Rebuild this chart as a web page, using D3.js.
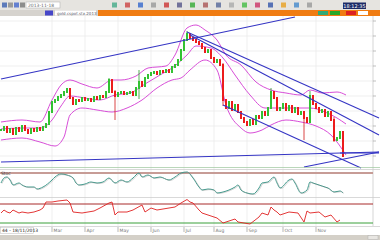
<!DOCTYPE html>
<html>
<head>
<meta charset="utf-8">
<script src="https://cdn.jsdelivr.net/npm/d3@7"></script>
<style>
  html, body { margin: 0; padding: 0; background: #fff; }
  svg { display: block; font-family: "DejaVu Sans", sans-serif; }
</style>
</head>
<body>
<div id="chart"></div>
<script>
// closing prices, one per trading day
const closes = [
  83.6, 83.9, 83.4, 83.7, 83.2, 83.8, 83.5, 84.0, 83.6, 83.3,
  83.7, 83.5, 83.8, 83.6, 83.9, 84.2, 85.4, 86.4, 86.6, 86.9,
  87.1, 87.4, 87.7, 86.8, 86.2, 86.6, 86.5, 86.8, 86.6, 86.7,
  86.5, 86.9, 86.7, 87.0, 86.9, 87.4, 88.6, 87.4, 87.0, 87.3,
  87.4, 87.2, 87.3, 87.4, 87.1, 87.8, 88.4, 88.0, 88.8, 89.1,
  89.3, 89.4, 89.2, 89.5, 89.4, 89.6, 89.4, 89.9, 90.1, 90.6,
  91.6, 92.6, 93.2, 92.8, 92.6, 92.4, 92.2, 91.8, 91.4, 91.6,
  90.8, 90.4, 90.6, 90.1, 86.6, 85.8, 86.4, 85.6, 86.1, 85.4,
  84.8, 84.4, 84.1, 84.6, 84.2, 85.0, 84.8, 85.4, 85.1, 85.8,
  87.4, 86.8, 85.6, 85.8, 86.2, 85.6, 86.0, 85.4, 85.8, 85.2,
  85.4, 84.8, 84.4, 87.0, 86.2, 85.8, 85.4, 85.6, 85.0, 85.4,
  84.6, 82.6, 82.8, 83.4, 81.0
];

// long shadows worth showing: [day, low, high]
const spikes = [
  [36, 87.4, 88.8], [38, 84.6, 87.6], [46, 86.7, 89.6], [62, 92.6, 93.5],
  [74, 86.0, 90.3], [90, 85.7, 87.8], [101, 82.6, 85.2], [103, 85.4, 87.5],
  [111, 82.4, 84.9], [114, 80.9, 83.2]
];

// bollinger bands: [day, price]
const bandUpper = [
  [0, 84.4], [7, 84.6], [13, 84.4], [17, 86.6], [20, 88.1], [23, 88.6], [27, 88.2],
  [32, 87.8], [37, 88.6], [40, 88.6], [45, 89.0], [49, 89.8], [55, 90.0], [58, 91.1],
  [62, 93.8], [65, 94.1], [68, 93.6], [72, 92.6], [75, 91.1], [80, 90.1], [85, 88.4],
  [90, 87.6], [95, 87.3], [100, 87.1], [103, 87.6], [107, 87.3], [112, 87.4], [115, 87.1]
];
const bandMiddle = [
  [0, 83.7], [7, 83.8], [13, 83.8], [17, 84.6], [20, 86.0], [23, 87.0], [28, 86.8],
  [33, 86.6], [38, 87.1], [43, 87.3], [48, 88.2], [53, 89.1], [57, 89.8], [62, 91.1],
  [65, 92.0], [70, 91.8], [74, 90.8], [78, 89.1], [83, 87.1], [88, 85.8], [93, 85.8],
  [98, 85.8], [103, 85.8], [108, 85.4], [112, 84.8], [115, 84.2]
];
const bandLower = [
  [0, 82.6], [7, 82.8], [13, 82.4], [18, 82.0], [21, 82.9], [23, 85.1], [27, 85.8],
  [32, 85.6], [37, 85.4], [42, 85.8], [47, 86.6], [52, 87.8], [57, 88.6], [60, 88.8],
  [63, 89.6], [68, 90.6], [72, 89.6], [75, 86.1], [80, 83.8], [83, 83.3], [87, 83.6],
  [90, 84.1], [95, 84.6], [100, 84.4], [105, 84.0], [110, 83.1], [115, 81.1]
];

// hand drawn trend lines: [[day, price], [day, price]]
const trendLines = [
  [[0, 88.7], [98, 94.9]],
  [[62, 93.4], [126, 84.8]],
  [[63, 93.1], [126, 83.1]],
  [[74, 86.1], [120, 79.8]],
  [[0, 80.4], [126, 81.4]],
  [[101, 79.9], [126, 81.4]],
  [[113, 81.3], [126, 81.3]]
];

// stochastic panel: [day, value]
const stoch = [
  [0, 52], [1, 72], [2, 76], [3, 64], [4, 44], [6, 52], [7, 44], [9, 36], [11, 36], [12, 28],
  [14, 36], [17, 64], [18, 76], [20, 88], [22, 84], [24, 72], [25, 52], [26, 44], [28, 48],
  [30, 56], [32, 52], [34, 56], [36, 72], [38, 52], [40, 64], [42, 56], [44, 72], [46, 92],
  [47, 76], [49, 84], [51, 72], [53, 76], [56, 64], [58, 76], [60, 92], [62, 96], [64, 72],
  [66, 36], [67, 24], [69, 28], [71, 24], [72, 12], [74, 16], [76, 24], [78, 36], [79, 44],
  [80, 24], [82, 12], [84, 8], [86, 32], [87, 52], [89, 56], [91, 76], [92, 52], [93, 32],
  [96, 64], [97, 68], [98, 52], [100, 12], [102, 24], [103, 56], [104, 52], [106, 44],
  [108, 36], [109, 32], [111, 16], [113, 20], [114, 12]
];
const stochLevel = 92;

// second oscillator panel: [day, value]
const osc = [
  [0, 48], [1, 60], [2, 52], [3, 48], [4, 60], [6, 48], [7, 52], [9, 48], [11, 52], [13, 60],
  [14, 68], [15, 92], [17, 92], [19, 96], [22, 100], [23, 88], [24, 52], [27, 48], [29, 52],
  [31, 56], [33, 68], [36, 88], [37, 92], [38, 40], [39, 52], [42, 52], [44, 60], [47, 80],
  [48, 52], [50, 68], [52, 60], [56, 68], [58, 72], [60, 88], [62, 102], [63, 92], [64, 88],
  [66, 60], [67, 48], [69, 40], [71, 32], [72, 28], [74, 8], [76, 16], [78, 24], [79, 12],
  [81, 8], [83, 4], [86, 32], [87, 48], [89, 40], [90, 72], [91, 60], [92, 52], [93, 40],
  [96, 52], [99, 48], [101, 12], [102, 56], [103, 48], [106, 52], [108, 32], [110, 40],
  [112, 12], [113, 20]
];
const oscLevels = [84, 8];

const priceTicks = [81, 82.5, 84, 85.5, 87, 88.5, 90, 91.5, 93, 94.5];
const monthTicks = [17, 28, 39, 50, 61, 71, 82, 94, 105];
const monthLabels = ["Mar", "Apr", "May", "Jun", "Jul", "Aug", "Sep", "Oct", "Nov"];
const toolbarIcons = ["#3a5fb0", "#888", "#4466cc", "#777", "#4a8", "#c44", "#36c", "#999", "#c33",
  "#558", "#3a3", "#a55", "#569", "#aaa", "#4b4", "#c36", "#35a", "#e9a020", "#48c", "#999"];

const width = 380, height = 240;

const svg = d3.select("#chart").append("svg")
  .attr("width", width)
  .attr("height", height);

const x = d3.scaleLinear().domain([0, 126]).range([1, 379]);
const y = d3.scaleLinear().domain([80, 94.9]).range([166, 17]);
const yStoch = d3.scaleLinear().domain([0, 100]).range([196, 171]);
const yOsc = d3.scaleLinear().domain([0, 100]).range([225, 200]);

// ---- window chrome ----
svg.append("rect").attr("width", width).attr("height", 10).attr("fill", "#e6e4e0");
svg.append("g").selectAll("rect")
  .data(toolbarIcons)
  .join("rect")
  .attr("x", (d, i) => i < 4 ? 2 + i * 6 : 60 + i * 13)
  .attr("y", 2.5)
  .attr("width", 5)
  .attr("height", 5)
  .attr("fill", d => d)
  .attr("opacity", 0.8);
svg.append("rect").attr("x", 26).attr("y", 2).attr("width", 34).attr("height", 6)
  .attr("fill", "#fff").attr("stroke", "#aaa").attr("stroke-width", 0.5);
svg.append("text").attr("x", 28).attr("y", 6.8).attr("font-size", 4.5).attr("fill", "#666")
  .text("2013-11-18");
svg.append("rect").attr("x", 343).attr("y", 2.5).attr("width", 23).attr("height", 6.5).attr("fill", "#1c2a66");
svg.append("text").attr("x", 354.5).attr("y", 7.5).attr("font-size", 5).attr("fill", "#fff")
  .attr("text-anchor", "middle").text("18:12:35");

svg.append("rect").attr("y", 10).attr("width", width).attr("height", 6).attr("fill", "#d6d3ce");
svg.append("rect").attr("x", 98).attr("y", 10).attr("width", 282).attr("height", 6).attr("fill", "#f07c12");
svg.append("rect").attr("x", 55).attr("y", 10.5).attr("width", 41).attr("height", 5).attr("fill", "#fff");
svg.append("rect").attr("x", 45).attr("y", 10.5).attr("width", 8).attr("height", 5).attr("fill", "#4646c8");
svg.append("text").attr("x", 57).attr("y", 14.6).attr("font-size", 4).attr("fill", "#556")
  .text("gold.cspot.stx.2013");
[[318, "#3a7"], [330, "#28a828"], [346, "#d22"], [358, "#fff"]].forEach(([px, c]) => {
  svg.append("rect").attr("x", px).attr("y", 11).attr("width", 10).attr("height", 4).attr("fill", c);
});

// ---- grids ----
const grid = svg.append("g").attr("stroke", "#ebebeb").attr("stroke-width", 0.8);
grid.selectAll(".h").data(priceTicks).join("line")
  .attr("x1", 0).attr("x2", 373).attr("y1", d => y(d)).attr("y2", d => y(d));
grid.selectAll(".v").data(monthTicks).join("line")
  .attr("x1", d => x(d)).attr("x2", d => x(d)).attr("y1", 16).attr("y2", 226);

// right price axis
const axisR = svg.append("g").attr("transform", "translate(373,0)");
axisR.append("line").attr("y1", 16).attr("y2", 226).attr("stroke", "#bbb").attr("stroke-width", 0.6);
axisR.selectAll(".t").data(priceTicks).join("line")
  .attr("x1", 0).attr("x2", 3).attr("y1", d => y(d)).attr("y2", d => y(d))
  .attr("stroke", "#999").attr("stroke-width", 0.6);

// ---- bollinger ----
const bandLine = d3.line().x(d => x(d[0])).y(d => y(d[1])).curve(d3.curveMonotoneX);
[bandUpper, bandMiddle, bandLower].forEach(band => {
  svg.append("path").attr("d", bandLine(band))
    .attr("fill", "none").attr("stroke", "#d23ad2").attr("stroke-width", 0.9);
});

// ---- candles ----
const candles = closes.map((c, i) => ({ i, open: i ? closes[i - 1] : c, close: c }));
svg.append("g").selectAll("line")
  .data(spikes)
  .join("line")
  .attr("x1", d => x(d[0])).attr("x2", d => x(d[0]))
  .attr("y1", d => y(d[1])).attr("y2", d => y(d[2]))
  .attr("stroke", d => closes[d[0]] >= closes[d[0] - 1] ? "#2a9a2a" : "#d01818")
  .attr("stroke-width", 0.8);
svg.append("g").selectAll("rect")
  .data(candles)
  .join("rect")
  .attr("x", d => x(d.i) - 1)
  .attr("width", 2)
  .attr("y", d => y(Math.max(d.open, d.close)) - 1)
  .attr("height", d => Math.abs(y(d.open) - y(d.close)) + 2)
  .attr("fill", d => d.close >= d.open ? "#33c233" : "#ec1c1c");

// ---- trend lines ----
svg.append("g").selectAll("line")
  .data(trendLines)
  .join("line")
  .attr("x1", d => x(d[0][0])).attr("y1", d => y(d[0][1]))
  .attr("x2", d => x(d[1][0])).attr("y2", d => y(d[1][1]))
  .attr("stroke", "#3535c4").attr("stroke-width", 1.1);

// ---- panel separators ----
[167.5, 169.5, 197.5, 226.5].forEach(py => {
  svg.append("line").attr("x1", 0).attr("x2", width).attr("y1", py).attr("y2", py)
    .attr("stroke", py === 167.5 ? "#9cc69c" : "#c8c8c8").attr("stroke-width", 0.7);
});

// stochastic panel
svg.append("line").attr("x1", 0).attr("x2", 373)
  .attr("y1", yStoch(stochLevel)).attr("y2", yStoch(stochLevel))
  .attr("stroke", "#c79c96").attr("stroke-width", 2);
svg.append("path")
  .attr("d", d3.line().x(d => x(d[0])).y(d => yStoch(d[1])).curve(d3.curveMonotoneX)(stoch))
  .attr("fill", "none").attr("stroke", "#3f9a8c").attr("stroke-width", 1);
svg.append("path")
  .attr("d", d3.line().x(d => x(d[0]) + 1).y(d => yStoch(d[1]) + 0.6).curve(d3.curveMonotoneX)(stoch))
  .attr("fill", "none").attr("stroke", "#8a8a8a").attr("stroke-width", 0.5).attr("opacity", 0.7);
svg.append("text").attr("x", 1).attr("y", 175).attr("font-size", 4.5).attr("fill", "#333").text("Stoc");

// second oscillator panel
svg.append("line").attr("x1", 0).attr("x2", 373)
  .attr("y1", yOsc(oscLevels[0])).attr("y2", yOsc(oscLevels[0]))
  .attr("stroke", "#a82a2a").attr("stroke-width", 1);
svg.append("line").attr("x1", 0).attr("x2", 373)
  .attr("y1", yOsc(oscLevels[1])).attr("y2", yOsc(oscLevels[1]))
  .attr("stroke", "#3aa03a").attr("stroke-width", 1);
svg.append("path")
  .attr("d", d3.line().x(d => x(d[0])).y(d => yOsc(d[1])).curve(d3.curveLinear)(osc))
  .attr("fill", "none").attr("stroke", "#e02020").attr("stroke-width", 0.9);

// ---- date axis ----
const dateAxis = svg.append("g");
dateAxis.selectAll("line").data(monthTicks).join("line")
  .attr("x1", d => x(d)).attr("x2", d => x(d)).attr("y1", 227).attr("y2", 232)
  .attr("stroke", "#888").attr("stroke-width", 0.6);
dateAxis.selectAll("text").data(monthTicks).join("text")
  .attr("x", d => x(d) + 1.5).attr("y", 232)
  .attr("font-size", 4.5).attr("fill", "#777")
  .text((d, i) => monthLabels[i]);
svg.append("rect").attr("x", 0.5).attr("y", 227.5).attr("width", 33).attr("height", 6)
  .attr("fill", "#fff").attr("stroke", "#bbb").attr("stroke-width", 0.5);
svg.append("text").attr("x", 2).attr("y", 232).attr("font-size", 4.5).attr("fill", "#222")
  .text("44 - 18/11/2013");

svg.append("rect").attr("y", 235).attr("width", width).attr("height", 5).attr("fill", "#d4d0c8");
svg.append("rect").attr("x", 368).attr("y", 235.5).attr("width", 10).attr("height", 4)
  .attr("fill", "#e8e6e2").attr("stroke", "#aaa").attr("stroke-width", 0.4);
</script>
</body>
</html>
